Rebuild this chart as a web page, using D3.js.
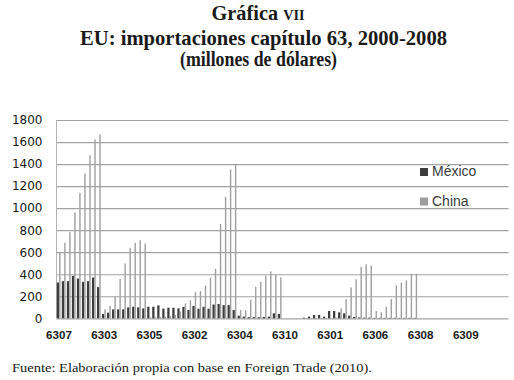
<!DOCTYPE html>
<html><head><meta charset="utf-8">
<script src="https://cdn.jsdelivr.net/npm/d3@7"></script>
<style>
html,body{margin:0;padding:0;background:#fff;}
svg{display:block;}
</style>
</head><body>
<svg id="chart" width="514" height="380"></svg>
<script>
// ---- data ----
const codes = ["6307","6303","6305","6302","6304","6310","6301","6306","6308","6309"];
const years = ["2000","2001","2002","2003","2004","2005","2006","2007","2008"];
const seriesNames = ["México","China"];
const yTicks = [0,200,400,600,800,1000,1200,1400,1600,1800];

// México, per code (2000..2008)
const mexico6307 = [325,337,337,385,361,331,337,370,283];
const mexico6303 = [39,51,81,81,81,99,105,99,90];
const mexico6305 = [105,105,117,88,96,96,90,103,75];
const mexico6302 = [111,87,105,87,125,130,120,120,75];
const mexico6304 = [24,15,10,10,10,12,15,45,39];
const mexico6310 = [0,0,0,0,6,15,30,30,15];
const mexico6301 = [66,66,54,45,24,12,8,6,6];
const mexico6306 = [4,4,4,4,4,4,4,4,4];
const mexico6308 = [0,0,0,0,0,0,0,0,0];
const mexico6309 = [0,0,0,0,0,0,0,0,0];

// China, per code (2000..2008)
const china6307 = [601,686,782,962,1137,1314,1480,1624,1669];
const china6303 = [81,112,198,357,498,640,685,709,679];
const china6305 = [10,10,12,15,20,30,60,135,165];
const china6302 = [237,246,297,369,450,856,1102,1351,1396];
const china6304 = [75,70,168,285,330,390,426,400,372];
const china6310 = [0,0,0,0,2,3,3,3,3];
const china6301 = [5,8,90,174,280,354,465,490,478];
const china6306 = [66,54,105,174,300,324,345,405,405];
const china6308 = [0,0,0,0,0,0,0,0,0];
const china6309 = [0,0,0,0,0,0,0,0,0];

const mexico = [mexico6307,mexico6303,mexico6305,mexico6302,mexico6304,mexico6310,mexico6301,mexico6306,mexico6308,mexico6309];
const china  = [china6307,china6303,china6305,china6302,china6304,china6310,china6301,china6306,china6308,china6309];

// ---- chart ----
const svg = d3.select("#chart");
const pLeft = 56.5, pRight = 508.5, pTop = 120, pBottom = 318.3;

const x0 = d3.scaleBand().domain(codes).range([pLeft, pRight]).padding(0);
const x1 = d3.scaleBand().domain(years).range([0, x0.bandwidth()]).padding(0);
const x2 = d3.scaleBand().domain(seriesNames).range([0.3, 4.4]).padding(0);
const y = d3.scaleLinear().domain([0, 1800]).range([pBottom, pTop]);

// gridlines
const grid = svg.append("g")
  .attr("transform", `translate(${pLeft},0)`)
  .call(d3.axisLeft(y).tickValues(yTicks).tickSize(-(pRight-pLeft)).tickFormat(""));
grid.select(".domain").remove();
grid.selectAll("line").attr("stroke","#a3a3a3").attr("stroke-width",1.2);

// vertical axis line
svg.append("line").attr("x1",pLeft).attr("x2",pLeft).attr("y1",y(1800)).attr("y2",y(0))
  .attr("stroke","#b5b5b5").attr("stroke-width",1);

// y labels
const yAxis = svg.append("g")
  .attr("transform", `translate(${pLeft-14},0)`)
  .call(d3.axisLeft(y).tickValues(yTicks).tickSize(0).tickPadding(0).tickFormat(d3.format("d")));
yAxis.select(".domain").remove();
yAxis.selectAll("text")
  .attr("font-family","DejaVu Sans, sans-serif")
  .attr("font-size","12px")
  .attr("fill","#1a1a1a");

// bars
const mexColor = "#3d3d3d", chiColor = "#9f9f9f";
const flat = [];
codes.forEach((c, i) => years.forEach((yr, j) => {
  flat.push({code:c, year:yr, mex:mexico[i][j], chi:china[i][j]});
}));
const g = svg.append("g");
g.selectAll("rect.mex").data(flat).join("rect").attr("class","mex")
  .attr("x", d => x0(d.code) + x1(d.year) + x2("México"))
  .attr("width", x2.bandwidth()*1.1)
  .attr("y", d => y(d.mex))
  .attr("height", d => y(0) - y(d.mex))
  .attr("fill", mexColor);
g.selectAll("rect.chi").data(flat).join("rect").attr("class","chi")
  .attr("x", d => x0(d.code) + x1(d.year) + x2("China") + 0.3)
  .attr("width", 1.4)
  .attr("y", d => y(d.chi))
  .attr("height", d => y(0) - y(d.chi))
  .attr("fill", chiColor);

// x labels (at first year of each code)
svg.append("g").selectAll("text").data(codes).join("text")
  .attr("x", c => x0(c) + x1(years[0]) + x1.bandwidth()/2)
  .attr("y", 339)
  .attr("text-anchor","middle")
  .attr("font-family","Liberation Sans, Arial, sans-serif")
  .attr("font-weight","bold")
  .attr("font-size","11.6px")
  .attr("fill","#1a1a1a")
  .text(c => c);

// legend
const leg = svg.append("g");
seriesNames.forEach((s, i) => {
  const yy = 168 + i*29.5;
  leg.append("rect").attr("x",420).attr("y",yy).attr("width",8).attr("height",8)
    .attr("fill", i===0 ? mexColor : chiColor);
  leg.append("text").attr("x",432).attr("y",yy+8.3)
    .attr("font-family","Liberation Sans, Arial, sans-serif")
    .attr("font-size","14px").attr("fill","#3a3a3a").text(s);
});

// titles
const serif = "Liberation Serif, Times New Roman, serif";
const t1 = svg.append("text").attr("x",258).attr("y",19.5).attr("text-anchor","middle")
  .attr("font-family",serif).attr("font-weight","bold").attr("font-size","20px").attr("fill","#1a1a1a")
  .attr("textLength",93).attr("lengthAdjust","spacingAndGlyphs");
t1.append("tspan").text("Gráfica ");
t1.append("tspan").attr("font-size","14px").text("VII");
svg.append("text").attr("x",263.5).attr("y",45).attr("text-anchor","middle")
  .attr("font-family",serif).attr("font-weight","bold").attr("font-size","20px").attr("fill","#1a1a1a")
  .attr("textLength",367).attr("lengthAdjust","spacingAndGlyphs")
  .text("EU: importaciones capítulo 63, 2000-2008");
svg.append("text").attr("x",258.5).attr("y",66).attr("text-anchor","middle")
  .attr("font-family",serif).attr("font-weight","bold").attr("font-size","20px").attr("fill","#1a1a1a")
  .attr("textLength",157).attr("lengthAdjust","spacingAndGlyphs")
  .text("(millones de dólares)");

// source
svg.append("text").attr("x",12).attr("y",372)
  .attr("font-family",serif).attr("font-size","12px").attr("fill","#1a1a1a")
  .attr("textLength",360).attr("lengthAdjust","spacingAndGlyphs")
  .text("Fuente: Elaboración propia con base en Foreign Trade (2010).");
</script>
</body></html>
